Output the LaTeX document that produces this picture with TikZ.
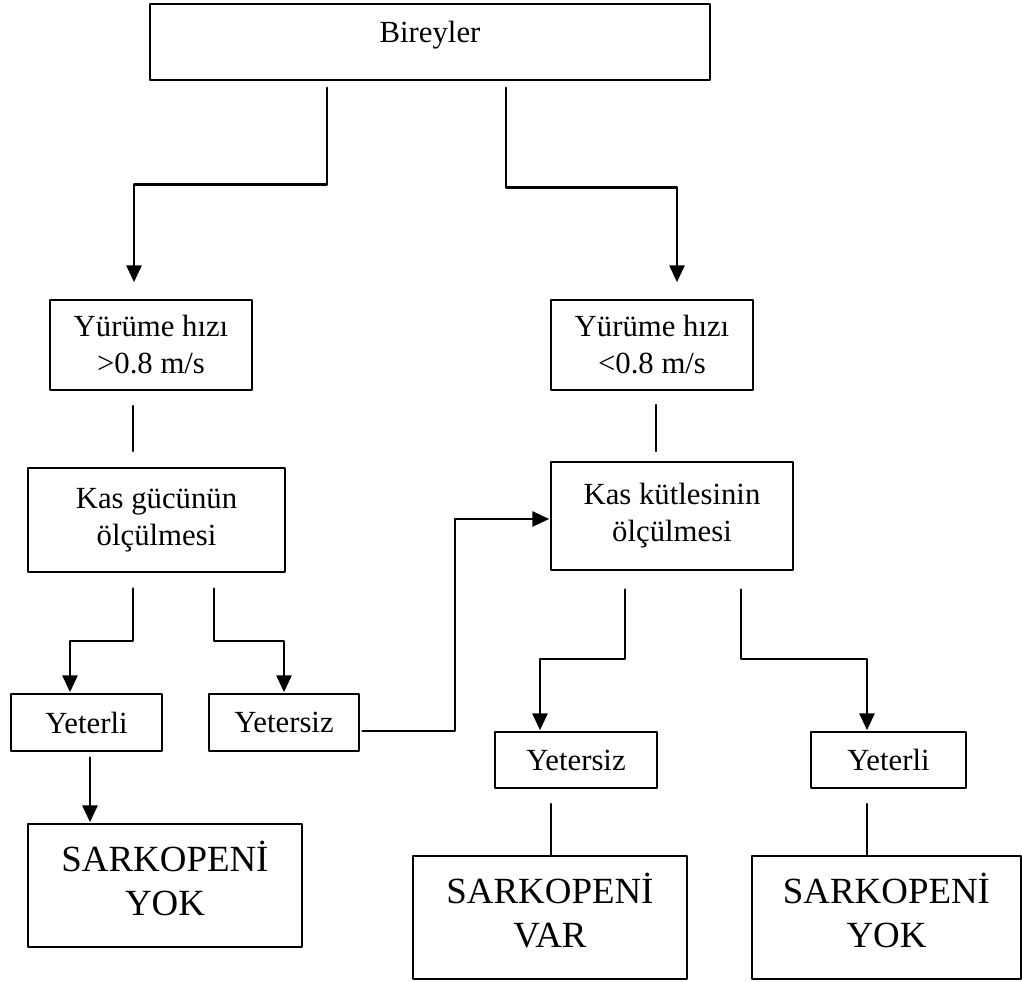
\documentclass[tikz,border=0pt]{standalone}
\usepackage{fontspec}
\setmainfont{Liberation Serif}
\usetikzlibrary{arrows.meta,positioning}
\tikzset{
  every picture/.append style={line cap=round,line join=round},
  sark box/.style={draw,line width=0.85pt,inner sep=0pt,align=center,font=\fontsize{17.5}{21}\selectfont},
  sark result/.style={sark box,text depth=0.28cm,font=\fontsize{21}{25}\selectfont},
  sark arrow/.style={line width=1.7pt,-{Triangle[length=3.4mm,width=3mm]}},
  sark line/.style={line width=0.75pt}
}

\begin{document}
\begin{tikzpicture}[x=0.02cm,y=-0.02cm]
\useasboundingbox (0,0) rectangle (1022,982);
% boxes
\node[sark box,line width=1.1pt,minimum width=11.2cm,minimum height=1.52cm,text depth=0.4cm] (bir) at (430,42) {Bireyler};
\node[sark box,minimum width=4.04cm,minimum height=1.8cm] (ylft) at (151,345) {Yürüme hızı\\>0.8 m/s};
\node[sark box,minimum width=4.04cm,minimum height=1.8cm] (yrgt) at (652,345) {Yürüme hızı\\<0.8 m/s};
\node[sark box,minimum width=5.14cm,minimum height=2.08cm] (kgl) at (156.5,520) {Kas gücünün\\ölçülmesi};
\node[sark box,minimum width=4.84cm,minimum height=2.16cm] (kkt) at (672,516) {Kas kütlesinin\\ölçülmesi};
\node[sark box,minimum width=3.02cm,minimum height=1.14cm] (yt1) at (86.5,722.5) {Yeterli};
\node[sark box,minimum width=3.0cm,minimum height=1.14cm] (ys1) at (284,722.5) {Yetersiz};
\node[sark box,minimum width=3.24cm,minimum height=1.12cm] (ys2) at (576,760) {Yetersiz};
\node[sark box,minimum width=3.1cm,minimum height=1.12cm] (yt2) at (888.5,760) {Yeterli};
\node[sark result,minimum width=5.48cm,minimum height=2.46cm] (sy1) at (165,885.5) {SARKOPENİ\\YOK};
\node[sark result,minimum width=5.48cm,minimum height=2.46cm] (svar) at (550,917.5) {SARKOPENİ\\VAR};
\node[sark result,minimum width=5.38cm,minimum height=2.46cm] (sy2) at (886.5,917.5) {SARKOPENİ\\YOK};
% connectors
\draw[sark arrow,shorten <=0.14cm,shorten >=0.34cm] (bir.south -| 327,0) -- (327,185) -| (ylft.north -| 134,0);
\draw[sark arrow,shorten <=0.14cm,shorten >=0.34cm] (bir.south -| 506,0) -- (506,188) -| (yrgt.north -| 677,0);
\draw[sark line,shorten <=0.3cm,shorten >=0.32cm] (ylft.south -| 133,0) -- (kgl.north -| 133,0);
\draw[sark line,shorten <=0.28cm,shorten >=0.2cm] (yrgt.south -| 656,0) -- (kkt.north -| 656,0);
\draw[sark arrow,shorten <=0.32cm,shorten >=0.02cm] (kgl.south -| 133,0) -- (133,641) -| (yt1.north -| 70,0);
\draw[sark arrow,shorten <=0.32cm,shorten >=0.02cm] (kgl.south -| 214,0) -- (214,641) -| (ys1.north -| 284,0);
\draw[sark arrow,shorten <=0.06cm,shorten >=0.02cm] (ys1.east |- 0,731) -- (455,731) |- (kkt.west |- 0,519);
\draw[sark arrow,shorten <=0.38cm,shorten >=0.02cm] (kkt.south -| 625,0) -- (625,659) -| (ys2.north -| 540,0);
\draw[sark arrow,shorten <=0.38cm,shorten >=0.02cm] (kkt.south -| 741,0) -- (741,659) -| (yt2.north -| 867,0);
\draw[sark arrow,shorten <=0.12cm,shorten >=0.02cm] (yt1.south -| 90,0) -- (sy1.north -| 90,0);
\draw[sark line,shorten <=0.3cm] (ys2.south -| 551,0) -- (svar.north -| 551,0);
\draw[sark line,shorten <=0.3cm] (yt2.south -| 867,0) -- (sy2.north -| 867,0);
\end{tikzpicture}
\end{document}
